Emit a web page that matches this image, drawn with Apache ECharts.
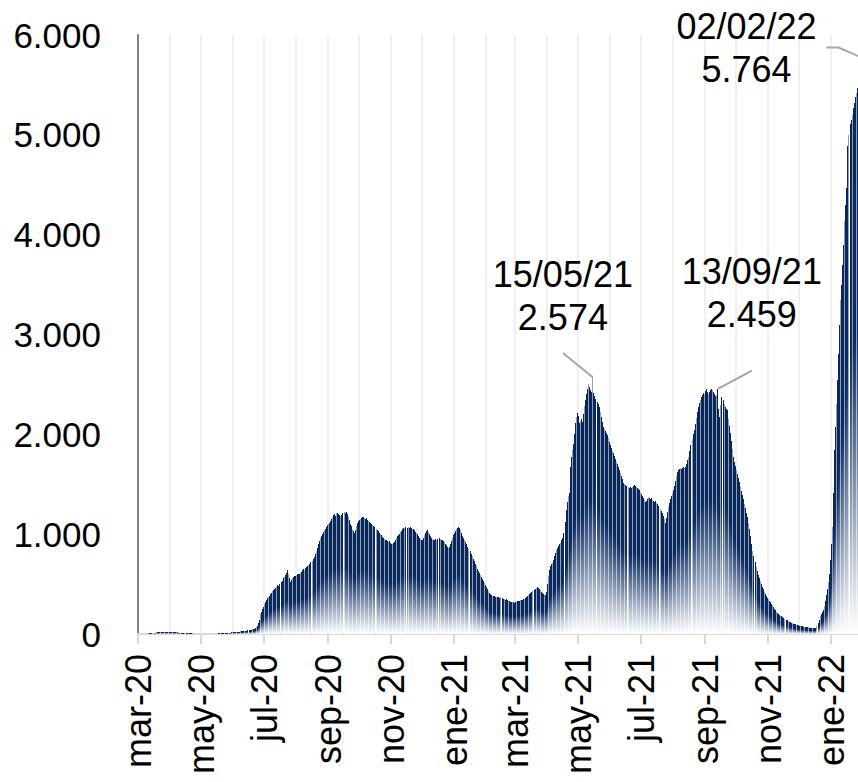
<!DOCTYPE html>
<html>
<head>
<meta charset="utf-8">
<script src="https://cdn.jsdelivr.net/npm/echarts@6/dist/echarts.min.js"></script>
<style>
html, body { margin: 0; padding: 0; background: #fff; }
#chart { width: 858px; height: 782px; }
/* snap the thin daily bars to whole pixels, like the original raster */
#chart svg path[fill^="url("] { shape-rendering: crispEdges; }
</style>
</head>
<body>
<div id="chart"></div>
<script>
// daily values, one array per month (first day: 01/03/2020)
var mar20 = [0,0,0,1,1,2,2,3,4,5,6,8,9,11,12,14,15,17,18,19,20,21,20,21,22,21,20,21,22,20,21];
var abr20 = [20,21,19,20,18,19,17,16,15,14,12,11,10,9,9,8,8,7,7,6,6,6,5,5,5,5,5,4,4,5];
var may20 = [5,4,4,5,5,4,4,5,4,4,5,5,4,5,5,5,6,6,5,6,6,7,7,8,9,10,12,13,15,17,18];
var jun20 = [19,20,22,21,23,24,25,26,28,27,30,32,34,35,37,40,42,44,47,50,55,60,68,85,110,140,200,220,250,270];
var jul20 = [300,320,340,360,370,385,400,410,430,445,450,460,475,490,480,500,520,530,560,575,590,610,640,600,560,520,545,560,570,585,580];
var ago20 = [590,600,605,600,610,625,640,650,645,660,670,680,690,700,720,735,750,770,800,830,860,900,930,960,980,1000,1020,1040,1050,1070,1090];
var sep20 = [1100,1110,1130,1150,1170,1190,1200,1185,1210,1215,1200,1190,1180,1195,1210,1220,1215,1225,1200,1170,1140,1100,1080,1050,1030,1010,1040,1080,1110,1130];
var oct20 = [1140,1150,1160,1175,1170,1165,1150,1160,1140,1130,1120,1110,1100,1090,1080,1070,1050,1040,1030,1010,1000,990,970,960,950,940,945,930,920,930,915];
var nov20 = [900,905,910,920,940,960,980,990,1000,1020,1030,1050,1060,1065,1070,1060,1070,1065,1075,1060,1055,1050,1040,1020,1010,1000,980,965,950,945];
var dic20 = [940,960,990,1010,1030,1040,1020,1000,980,960,950,940,945,950,940,950,960,950,945,940,935,920,900,890,870,860,870,900,930,960,990];
var ene21 = [1010,1030,1050,1060,1070,1060,1040,1010,980,960,940,920,900,870,850,830,800,780,750,730,700,680,650,630,610,590,570,550,530,510,490];
var feb21 = [470,450,430,410,400,390,385,380,380,375,370,375,370,365,370,360,355,350,345,350,340,335,330,325,320,325,320,315];
var mar21 = [320,325,330,335,330,340,340,345,350,355,360,370,380,390,400,410,420,430,440,455,465,470,465,450,440,420,410,400,395,390,420];
var abr21 = [500,580,640,680,700,710,740,780,810,840,860,880,900,910,940,960,1010,1120,1240,1320,1380,1410,1670,1770,1840,1900,2000,2110,2170,2210];
var may21 = [2180,2110,2130,2150,2120,2200,2280,2340,2400,2450,2500,2470,2440,2420,2574,2410,2380,2350,2320,2300,2270,2220,2170,2120,2070,2050,2030,2010,1990,1960,1920];
var jun21 = [1890,1860,1830,1810,1780,1750,1720,1700,1670,1640,1610,1580,1550,1510,1500,1490,1480,1470,1465,1470,1460,1470,1480,1490,1480,1470,1460,1450,1440,1420];
var jul21 = [1400,1380,1360,1340,1320,1330,1350,1370,1360,1350,1360,1340,1330,1320,1330,1310,1300,1280,1250,1230,1210,1180,1150,1110,1160,1220,1270,1310,1350,1380,1410];
var ago21 = [1440,1480,1530,1580,1620,1640,1650,1660,1650,1660,1670,1665,1670,1700,1740,1770,1830,1890,1950,2000,2040,2100,2160,2220,2270,2310,2340,2370,2390,2410,2400];
var sep21 = [2430,2450,2420,2400,2420,2440,2450,2440,2420,2400,2380,2390,2459,2250,2170,2290,2370,2340,2300,2270,2250,2240,2150,2080,2010,1930,1850,1770,1720,1680];
var oct21 = [1640,1600,1560,1520,1470,1430,1390,1350,1300,1260,1210,1170,1110,1050,980,900,830,780,720,670,630,590,560,530,500,470,450,420,400,380,360];
var nov21 = [350,330,320,300,290,270,250,240,220,210,200,190,185,180,170,160,150,145,140,135,125,120,115,110,105,100,98,95,90,88];
var dic21 = [85,82,80,78,75,72,70,70,68,66,65,64,62,63,60,62,60,85,110,140,180,200,220,240,280,330,390,450,520,600,740];
var ene22 = [900,1070,1410,1840,2070,2300,2540,2800,3100,3350,3500,3700,3900,4140,4300,4470,4890,5000,5110,5150,5200,5270,5320,5380,5420,5470,5510,5560,5600,5640,5680];
var feb22 = [5720,5764];

var values = [].concat(mar20, abr20, may20, jun20, jul20, ago20, sep20, oct20, nov20, dic20,
    ene21, feb21, mar21, abr21, may21, jun21, jul21, ago21, sep21, oct21, nov21, dic21,
    ene22, feb22);

// annotated days
var noteDates = ['2021-05-15', '2021-09-13', '2022-02-02'];
var noteTexts = ['15/05/21', '13/09/21', '02/02/22'];

var meses = ['ene','feb','mar','abr','may','jun','jul','ago','sep','oct','nov','dic'];

// one category per day
var dates = [];
var t0 = Date.UTC(2020, 2, 1);
for (var i = 0; i < values.length; i++) {
    dates.push(new Date(t0 + i * 86400000).toISOString().slice(0, 10));
}

function fmtNum(v) {
    return String(Math.round(v)).replace(/\B(?=(\d{3})+(?!\d))/g, '.');
}
function monthStart(i) {
    return dates[i].slice(8) === '01';
}
function labelMonth(i) {
    return monthStart(i) && (+dates[i].slice(5, 7)) % 2 === 1;
}

// label placement for the notes
var notePad = [[0, 0, 14, 0], [0, 0, 35, 0], [0, 10, 0, 0]];
var noteLen2 = [0, 0, 12];
var noteShift = [[-30, -19], [34, -13], [-113, 37]];

var FONT = '"Liberation Sans", Arial, sans-serif';

var barData = values.map(function (v, i) {
    var k = noteDates.indexOf(dates[i]);
    if (k < 0) return v;
    return {
        value: v,
        label: {
            show: true,
            formatter: noteTexts[k] + '\n' + fmtNum(v),
            padding: notePad[k]
        },
        labelLine: {
            show: true,
            length2: noteLen2[k],
            lineStyle: { color: '#a6a6a6', width: 2 }
        }
    };
});

var chart = echarts.init(document.getElementById('chart'), null, { renderer: 'svg' });
chart.setOption({
    animation: false,
    backgroundColor: '#fff',
    grid: {
        left: 138,
        top: 35,
        bottom: 148,
        right: -7,
        outerBoundsMode: 'none'
    },
    xAxis: {
        type: 'category',
        data: dates,
        axisLine: { lineStyle: { color: '#d9d9d9', width: 2 } },
        axisTick: {
            show: true,
            interval: labelMonth,
            length: 10,
            lineStyle: { color: '#d9d9d9', width: 2 }
        },
        splitLine: {
            show: true,
            interval: monthStart,
            lineStyle: { color: '#f0f0f0', width: 2 }
        },
        axisLabel: {
            interval: labelMonth,
            rotate: 90,
            margin: 20,
            color: '#000',
            fontSize: 36,
            fontFamily: FONT,
            formatter: function (val) {
                return meses[+val.slice(5, 7) - 1] + '-' + val.slice(2, 4);
            }
        }
    },
    yAxis: {
        type: 'value',
        min: 0,
        max: 6000,
        interval: 1000,
        axisLine: { show: true, lineStyle: { color: '#808080', width: 2 } },
        axisTick: { show: false },
        splitLine: { show: false },
        axisLabel: {
            margin: 37,
            color: '#000',
            fontSize: 35,
            fontFamily: FONT,
            formatter: fmtNum
        }
    },
    series: [{
        type: 'bar',
        data: barData,
        barCategoryGap: '28%',
        itemStyle: {
            color: new echarts.graphic.LinearGradient(0, 0, 0, 1, [
                { offset: 0, color: '#092659' },
                { offset: 0.45, color: '#0b2a60' },
                { offset: 1, color: '#ffffff' }
            ]),
            // thin light streaks between the daily bars
            decal: {
                symbol: 'rect',
                symbolSize: 1,
                color: 'rgba(255,255,255,0.55)',
                dashArrayX: [1, 3],
                dashArrayY: [10, 0],
                rotation: 0
            }
        },
        label: {
            show: false,
            position: 'top',
            distance: 5,
            color: '#000',
            fontSize: 36,
            lineHeight: 43,
            fontFamily: FONT,
            backgroundColor: 'rgba(255,255,255,0)'
        },
        labelLayout: function (p) {
            var k = noteDates.indexOf(dates[p.dataIndex]);
            if (k < 0) return {};
            return { dx: noteShift[k][0], dy: noteShift[k][1] };
        }
    }]
});
</script>
</body>
</html>
